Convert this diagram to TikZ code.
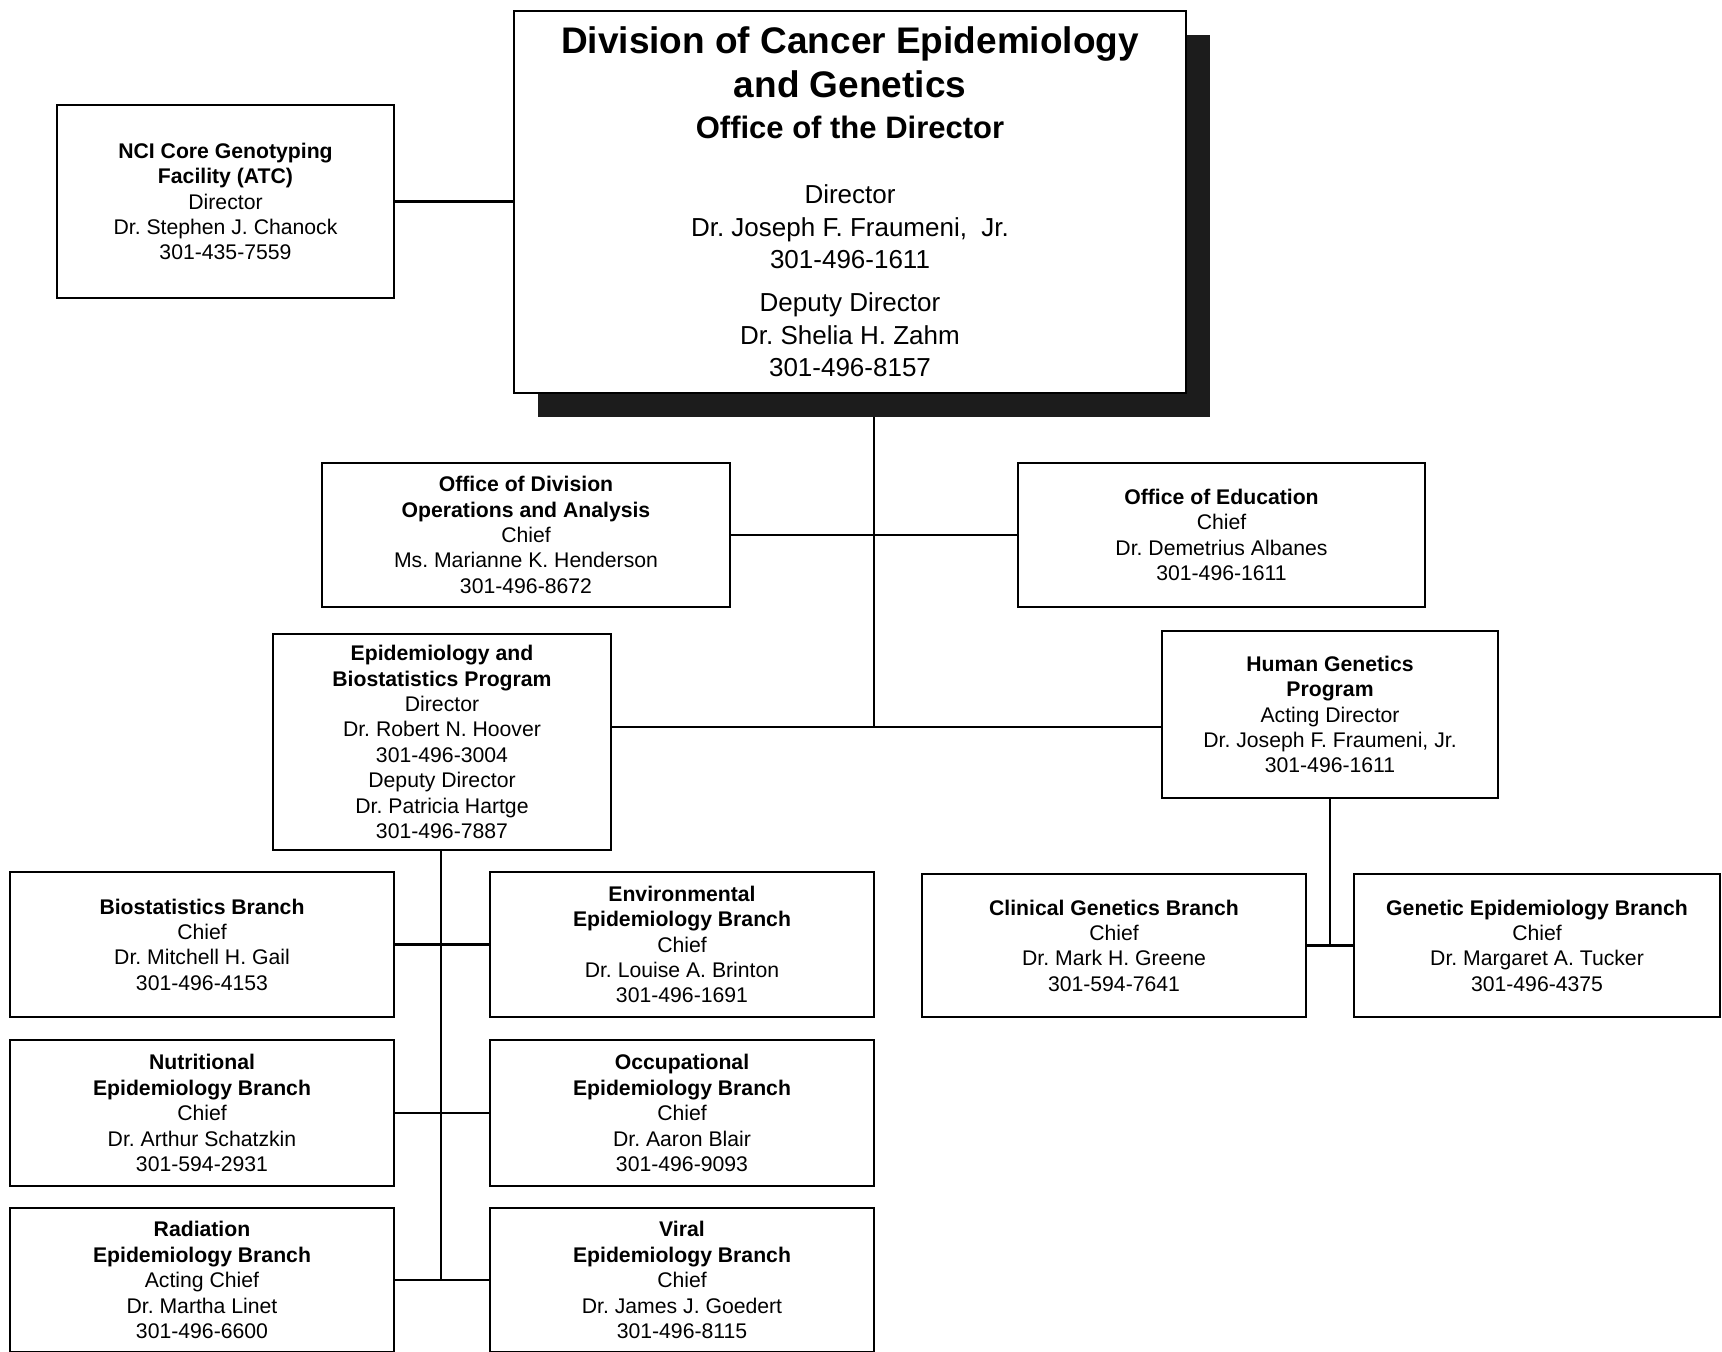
\documentclass[tikz,border=0pt]{standalone}
\usepackage{fontspec}
\setmainfont{Liberation Sans}
\frenchspacing
\begin{document}
\frenchspacing
\begin{tikzpicture}[x=0.5pt,y=-0.5pt,
  box/.style={draw, line width=1.1pt, fill=white, inner sep=0pt, align=center,
              font=\fontsize{10.6}{12.7}\selectfont},
  wire/.style={line width=1.1pt},
  shade/.style={fill=black!89, draw=none, inner sep=0pt},
  colL/.style={minimum width=192pt},
  colR/.style={minimum width=192pt}]
\useasboundingbox (0,0) rectangle (1722,1351);
\fill[white] (0,0) rectangle (1722,1351);
\clip (0,0) rectangle (1722,1351);

% top
\node[shade, minimum width=336pt, minimum height=191pt] (shadow) at (874,225.5) {};
\node[box, minimum width=336pt, minimum height=191pt] (main) at (850,202) {};
\node[align=center, inner sep=0pt, font=\fontsize{18.5}{22}\selectfont\bfseries] (mtitle) at (850,62.6)
  {Division of Cancer Epidemiology\\and Genetics};
\node[inner sep=0pt, font=\fontsize{15.5}{18}\selectfont\bfseries] (msub) at (850,127.4) {Office of the Director};
\node[align=center, inner sep=0pt, font=\fontsize{13}{16.2}\selectfont] (mdir) at (850,226.8)
  {Director\\Dr. Joseph F. Fraumeni,\ \ Jr.\\301-496-1611};
\node[align=center, inner sep=0pt, font=\fontsize{13}{16.2}\selectfont] (mdep) at (850,335)
  {Deputy Director\\Dr. Shelia H. Zahm\\301-496-8157};

\node[box, minimum width=168.5pt, minimum height=96.5pt] (nci) at (225.5,201.5)
  {\textbf{NCI Core Genotyping}\\\textbf{Facility (ATC)}\\Director\\Dr. Stephen J. Chanock\\301-435-7559};

% second level
\node[box, minimum width=204pt, minimum height=72pt] (odoa) at (526,535)
  {\textbf{Office of Division}\\\textbf{Operations and Analysis}\\Chief\\Ms. Marianne K. Henderson\\301-496-8672};
\node[box, minimum width=203.5pt, minimum height=72pt] (oe) at (1221.5,535)
  {\textbf{Office of Education}\\Chief\\Dr. Demetrius Albanes\\301-496-1611};
\node[box, minimum width=169pt, minimum height=108pt] (ebp) at (442,742)
  {\textbf{Epidemiology and}\\\textbf{Biostatistics Program}\\Director\\Dr. Robert N. Hoover\\301-496-3004\\Deputy Director\\Dr. Patricia Hartge\\301-496-7887};
\node[box, minimum width=168pt, minimum height=83.5pt] (hgp) at (1330,714.5)
  {\textbf{Human Genetics}\\\textbf{Program}\\Acting Director\\Dr. Joseph F. Fraumeni, Jr.\\301-496-1611};

% branches of EBP
\node[box, colL, minimum height=72.5pt] (bio) at (202,944.5)
  {\textbf{Biostatistics Branch}\\Chief\\Dr. Mitchell H. Gail\\301-496-4153};
\node[box, colR, minimum height=72.5pt] (env) at (682,944.5)
  {\textbf{Environmental}\\\textbf{Epidemiology Branch}\\Chief\\Dr. Louise A. Brinton\\301-496-1691};
\node[box, colL, minimum height=73pt] (nut) at (202,1113)
  {\textbf{Nutritional}\\\textbf{Epidemiology Branch}\\Chief\\Dr. Arthur Schatzkin\\301-594-2931};
\node[box, colR, minimum height=73pt] (occ) at (682,1113)
  {\textbf{Occupational}\\\textbf{Epidemiology Branch}\\Chief\\Dr. Aaron Blair\\301-496-9093};
\node[box, colL, minimum height=72pt] (rad) at (202,1280)
  {\textbf{Radiation}\\\textbf{Epidemiology Branch}\\Acting Chief\\Dr. Martha Linet\\301-496-6600};
\node[box, colR, minimum height=72pt] (vir) at (682,1280)
  {\textbf{Viral}\\\textbf{Epidemiology Branch}\\Chief\\Dr. James J. Goedert\\301-496-8115};

% branches of HGP
\node[box, minimum width=192pt, minimum height=71.5pt] (cg) at (1114,945.5)
  {\textbf{Clinical Genetics Branch}\\Chief\\Dr. Mark H. Greene\\301-594-7641};
\node[box, minimum width=183pt, minimum height=71.5pt] (ge) at (1537,945.5)
  {\textbf{Genetic Epidemiology Branch}\\Chief\\Dr. Margaret A. Tucker\\301-496-4375};

% connectors
\coordinate (j1) at (874,727);
\coordinate (j2) at (441,1280);
\draw[wire] (nci.east) -- (nci.east -| main.west);
\draw[wire] (shadow.south) -- (j1);
\draw[wire] (odoa.east) -- (oe.west);
\draw[wire] (ebp.east |- j1) -- (hgp.west |- j1);
\draw[wire] (ebp.south -| j2) -- (j2);
\draw[wire] (bio.east) -- (env.west);
\draw[wire] (nut.east) -- (occ.west);
\draw[wire] (rad.east) -- (vir.west);
\draw[wire] (hgp.south) -- (hgp.south |- cg.east);
\draw[wire] (cg.east) -- (ge.west);
\end{tikzpicture}
\end{document}
